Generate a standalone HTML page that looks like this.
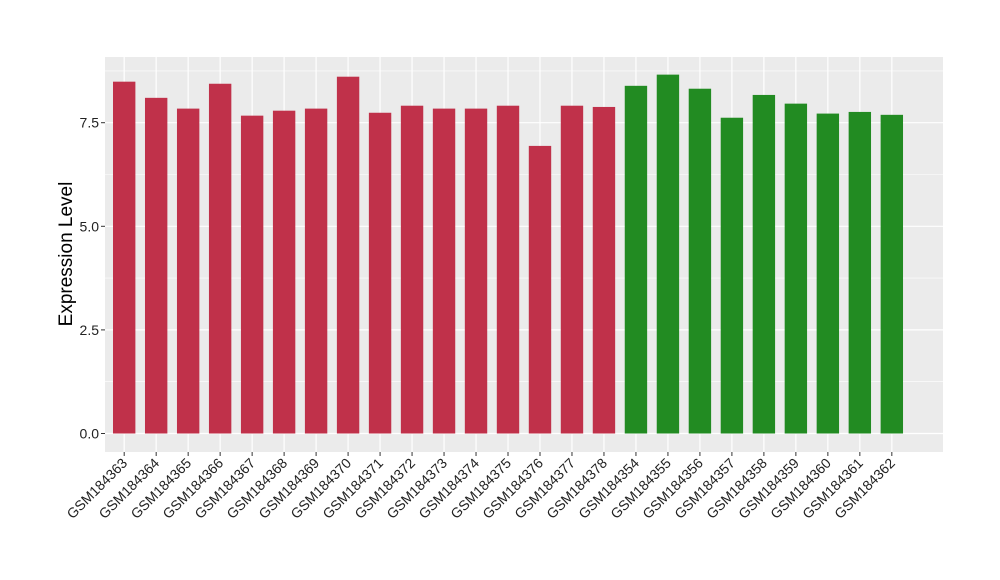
<!DOCTYPE html>
<html><head><meta charset="utf-8"><style>body{margin:0;background:#fff}svg{display:block;font-family:"Liberation Sans",Arial,sans-serif}</style></head>
<body>
<svg id="chart" width="1000" height="580">
<rect x="105" y="57" width="838" height="395" fill="#ebebeb"/>
<g id="grid"></g><g id="bars"></g><g id="axes"></g>
<text transform="translate(72,254) rotate(-90)" text-anchor="middle" font-size="19" fill="#000">Expression Level</text>
</svg>
<script>
const categories=["GSM184363","GSM184364","GSM184365","GSM184366","GSM184367","GSM184368","GSM184369","GSM184370","GSM184371","GSM184372","GSM184373","GSM184374","GSM184375","GSM184376","GSM184377","GSM184378","GSM184354","GSM184355","GSM184356","GSM184357","GSM184358","GSM184359","GSM184360","GSM184361","GSM184362"];
const values=[8.49,8.10,7.84,8.44,7.67,7.79,7.84,8.61,7.74,7.91,7.84,7.84,7.91,6.94,7.91,7.88,8.39,8.66,8.32,7.62,8.17,7.96,7.72,7.76,7.69];
const groups=["a","a","a","a","a","a","a","a","a","a","a","a","a","a","a","a","b","b","b","b","b","b","b","b","b"];
const yTicks=[0,2.5,5,7.5];
const yTickLabels=["0.0","2.5","5.0","7.5"];
const colors={a:"#c0314a",b:"#228b22"};
const NS="http://www.w3.org/2000/svg";
const panelL=105,panelR=943,panelT=57,panelB=452;
const y0=433.5,yPer=(433.5-122.7)/7.5;
const y=v=>y0-v*yPer;
const step=(panelR-panelL)/(categories.length+1.2);
const x=i=>panelL+step*(0.6+i);
const bw=step*0.7;
function mk(t,a,p){const e=document.createElementNS(NS,t);for(const k in a)e.setAttribute(k,a[k]);p.appendChild(e);return e;}
const grid=document.getElementById('grid'),bars=document.getElementById('bars'),axes=document.getElementById('axes');
for(let v=1.25;v<9;v+=2.5){const g=mk('line',{x1:panelL,x2:panelR,y1:y(v),y2:y(v),stroke:'#fff','stroke-width':0.6},grid);

}
yTicks.forEach((v,i)=>{const g=mk('line',{x1:panelL,x2:panelR,y1:y(v),y2:y(v),stroke:'#fff','stroke-width':1.2},grid);


const t=mk('line',{x1:panelL-4,x2:panelL,y1:y(v),y2:y(v),stroke:'#333'},axes);


const l=mk('text',{x:panelL-6,y:y(v)+5,'text-anchor':'end','font-size':14,fill:'#222'},axes);
l.textContent=yTickLabels[i];

});
categories.forEach((c,i)=>{const cx=x(i);
const g=mk('line',{x1:cx,x2:cx,y1:panelT,y2:panelB,stroke:'#fff','stroke-width':1.2},grid);


const b=mk('rect',{x:cx-bw/2,y:y(values[i]),width:bw,height:y0-y(values[i]),fill:colors[groups[i]]},bars);


const t=mk('line',{x1:cx,x2:cx,y1:panelB,y2:panelB+4,stroke:'#333'},axes);


const l=mk('text',{transform:`translate(${cx+4},${panelB+12}) rotate(-45)`,'text-anchor':'end','font-size':14,fill:'#222'},axes);
l.textContent=c;

});
</script>
</body></html>
